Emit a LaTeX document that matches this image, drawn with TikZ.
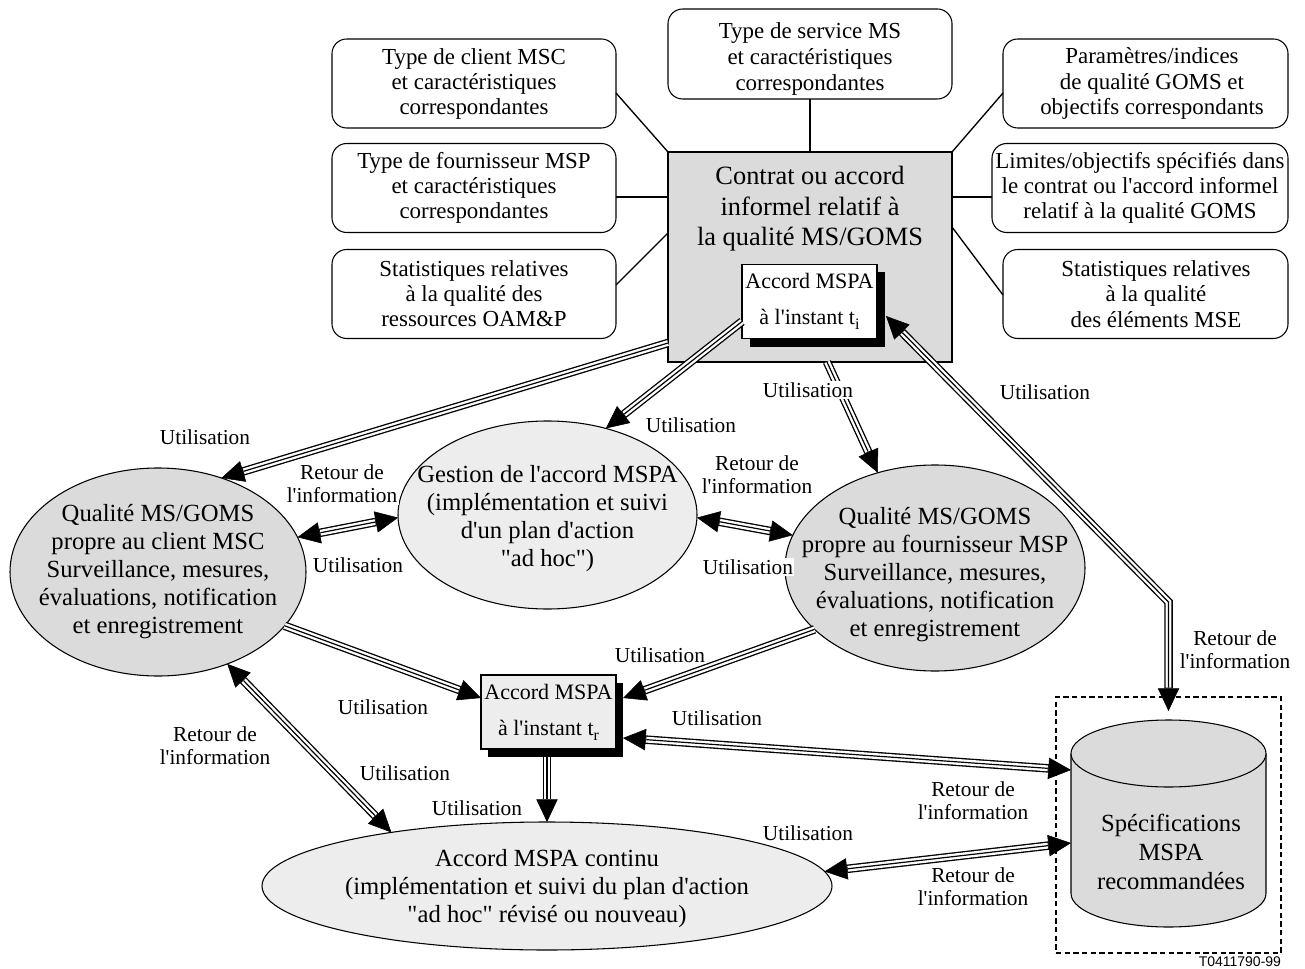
\documentclass[tikz,border=0pt]{standalone}
\usepackage{fontspec}
\usetikzlibrary{arrows.meta,calc,shapes.geometric,shadows}
\newfontfamily\tms{Liberation Serif}
\newfontfamily\hlv{Liberation Sans}
\definecolor{gdark}{gray}{0.86}
\definecolor{glight}{gray}{0.93}
\newcommand\lowsub[1]{\raisebox{-0.5ex}{\fontsize{12}{12}\selectfont #1}}
\tikzset{
  >={Triangle[length=17pt,width=16pt,line width=0.4pt]},
  every node/.style={inner sep=0pt, outer sep=0pt, align=center},
  lbl/.style={font=\tms\fontsize{16}{17.5}\selectfont, fill=white, inner sep=1pt},
  sbox/.style={draw, line width=0.8pt, rounded corners=11pt, minimum width=213pt, minimum height=66.75pt, font=\tms\fontsize{17.2}{18.75}\selectfont},
  stext/.style={font=\tms\fontsize{17.2}{19.2}\selectfont},
  ell/.style={draw, ellipse, line width=0.8pt},
  etext/.style={font=\tms\fontsize{18.5}{21}\selectfont},
  mspa/.style={draw, line width=0.8pt, minimum width=101.25pt, minimum height=56pt, font=\tms\fontsize{16.5}{27}\selectfont},
  link/.style={line width=1pt},
  trione/.style={->, line width=6.4pt,
    postaction={draw=white, line width=4.4pt, -, shorten >=17.5pt},
    postaction={draw=black, line width=0.9pt, -, shorten >=17.5pt}},
  tribi/.style={<->, line width=6.4pt,
    postaction={draw=white, line width=4.4pt, -, shorten >=17.5pt, shorten <=17.5pt},
    postaction={draw=black, line width=0.9pt, -, shorten >=17.5pt, shorten <=17.5pt}},
}
\begin{document}
\begin{tikzpicture}[x=0.75pt,y=-0.75pt]
\useasboundingbox (0,0) rectangle (1305,969);

% --- top boxes
\node[sbox] (A) at (474,83.5) {Type de client MSC\\et caractéristiques\\correspondantes};
\node[sbox] (B) at (474,188) {Type de fournisseur MSP\\et caractéristiques\\correspondantes};
\node[sbox] (C) at (474,294) {Statistiques relatives\\à la qualité des\\ressources OAM\&P};
\node[sbox, minimum height=67.5pt] (T) at (810,54) {};
\node[stext] (Tt) at (810,59) {Type de service MS\\et caractéristiques\\correspondantes};
\node[sbox, minimum width=213.75pt] (D) at (1145.5,83.5) {};
\node[stext] (Dt) at (1152,83.5) {Paramètres/indices\\de qualité GOMS et\\objectifs correspondants};
\node[sbox, minimum width=222pt] (E) at (1140,188) {Limites/objectifs spécifiés dans\\le contrat ou l'accord informel\\relatif à la qualité GOMS};
\node[sbox, minimum width=213.75pt] (F) at (1145.5,294) {};
\node[stext] (Ft) at (1156,294) {Statistiques relatives\\à la qualité\\des éléments MSE};

% --- main box
\node[draw, fill=gdark, line width=0.8pt, minimum width=213pt, minimum height=157.5pt] (main) at (810,257) {};
\node[font=\tms\fontsize{19.8}{22.8}\selectfont] (maintext) at (810,209) {Contrat ou accord\\informel relatif à\\la qualité MS/GOMS};
\node[mspa, fill=white, drop shadow={shadow xshift=6pt, shadow yshift=-6pt, opacity=1, fill=black}] (ti) at (809.5,301.5) {Accord MSPA\\à l'instant t\lowsub{i}};

% --- connectors of boxes
\draw[link] ($(A.east)+(0,9.5)$) -- (main.north west);
\draw[link] ($(B.east)+(0,9)$) -- ($(main.north west)+(0,45)$);
\draw[link] ($(C.east)+(0,-9)$) -- ($(main.north west)+(0,81)$);
\draw[link] (T.south) -- (main.north);
\draw[link] (main.north east) -- ($(D.west)+(0,9.5)$);
\draw[link] ($(main.north east)+(0,45)$) -- ($(E.west)+(0,9)$);
\draw[link] ($(main.north east)+(0,75)$) -- ($(F.west)+(0,1)$);

% --- ellipses
\node[ell, fill=gdark, minimum width=222pt, minimum height=156pt] (ellL) at (158,572) {};
\node[etext] (ellLt) at (158,572) {Qualité MS/GOMS\\propre au client MSC\\Surveillance, mesures,\\évaluations, notification\\et enregistrement};
\node[ell, fill=glight, minimum width=224.25pt, minimum height=141pt] (ellM) at (547.5,515) {};
\node[etext] (ellMt) at (547.5,519) {Gestion de l'accord MSPA\\(implémentation et suivi\\d'un plan d'action\\"ad hoc")};
\node[ell, fill=gdark, minimum width=225pt, minimum height=154.5pt] (ellR) at (935,568) {};
\node[etext] (ellRt) at (935,575) {Qualité MS/GOMS\\propre au fournisseur MSP\\Surveillance, mesures,\\évaluations, notification\\et enregistrement};
\node[ell, fill=glight, minimum width=427.5pt, minimum height=96pt] (ellB) at (547,886) {};
\node[etext] (ellBt) at (547,889) {Accord MSPA continu\\(implémentation et suivi du plan d'action\\"ad hoc" révisé ou nouveau)};

% --- MSPA at t_r
\node[mspa, fill=glight, minimum height=55.5pt, drop shadow={shadow xshift=5.5pt, shadow yshift=-6pt, opacity=1, fill=black}] (tr) at (548.5,712) {Accord MSPA\\à l'instant t\lowsub{r}};

% --- dashed frame and cylinder
\node[draw, dash pattern=on 4pt off 2.5pt, line width=0.9pt, minimum width=168.75pt, minimum height=192pt] (dbox) at (1168.5,825) {};
\filldraw[fill=gdark, line width=0.8pt] (1071,753.5) -- (1071,893.5) arc[start angle=180, end angle=0, x radius=97.5, y radius=33.5] -- (1266,753.5);
\filldraw[fill=gdark, line width=0.8pt] (1168.5,753.5) ellipse[x radius=97.5, y radius=33.5];
\node[minimum width=146.25pt, minimum height=155.25pt] (cyl) at (1168.5,823.5) {};
\node[font=\tms\fontsize{18.5}{22}\selectfont] (cylt) at (1171,852) {Spécifications\\MSPA\\recommandées};
\node[anchor=base east, font=\hlv\fontsize{10.5}{12}\selectfont] (code) at (1281,966) {T0411790-99};

% --- triple arrows
\coordinate (bend4) at (1168.5,602);
\draw[trione] ($(main.south west)+(0,-19)$) -- (ellL.56);
\draw[trione] ($(ti.west)+(0,20)$) -- (ellM.56);
\draw[trione] ($(main.south)+(17,0)$) -- (ellR.121);
\draw[tribi] ($(ti.east)+(9,14.5)$) -- (bend4) -- ($(cyl.north)+(0,-9)$);
\draw[tribi] (ellL.14) -- (ellM.181);
\draw[tribi] (ellM.-1) -- (ellR.167);
\draw[trione] (ellL.-23) -- ($(tr.west)+(0,-14)$);
\draw[trione] (ellR.207) -- ($(tr.east)+(7,-14)$);
\draw[tribi] ($(tr.east)+(7,26)$) -- ($(cyl.west)+(0,-53.5)$);
\draw[trione] ($(tr.south)+(-1.5,8)$) -- (ellB.90);
\draw[tribi] (ellL.-53) -- (ellB.161);
\draw[tribi] (ellB.3) -- ($(cyl.west)+(0,19.5)$);

% --- labels
\node[lbl] (l1) at (205,437) {Utilisation};
\node[lbl] (l2) at (342,484) {Retour de\\l'information};
\node[lbl] (l3) at (358,565) {Utilisation};
\node[lbl] (l4) at (691,425) {Utilisation};
\node[lbl] (l5) at (808,390) {Utilisation};
\node[lbl] (l6) at (1045,392) {Utilisation};
\node[lbl] (l7) at (757,475) {Retour de\\l'information};
\node[lbl] (l8) at (748,567) {Utilisation};
\node[lbl] (l9) at (1235,650) {Retour de\\l'information};
\node[lbl] (l10) at (660,655) {Utilisation};
\node[lbl] (l11) at (383,707) {Utilisation};
\node[lbl] (l12) at (717,718) {Utilisation};
\node[lbl] (l13) at (215,746) {Retour de\\l'information};
\node[lbl] (l14) at (405,773) {Utilisation};
\node[lbl] (l15) at (477,808) {Utilisation};
\node[lbl] (l16) at (973,801) {Retour de\\l'information};
\node[lbl] (l17) at (808,833) {Utilisation};
\node[lbl] (l18) at (973,887) {Retour de\\l'information};
\end{tikzpicture}
\end{document}
